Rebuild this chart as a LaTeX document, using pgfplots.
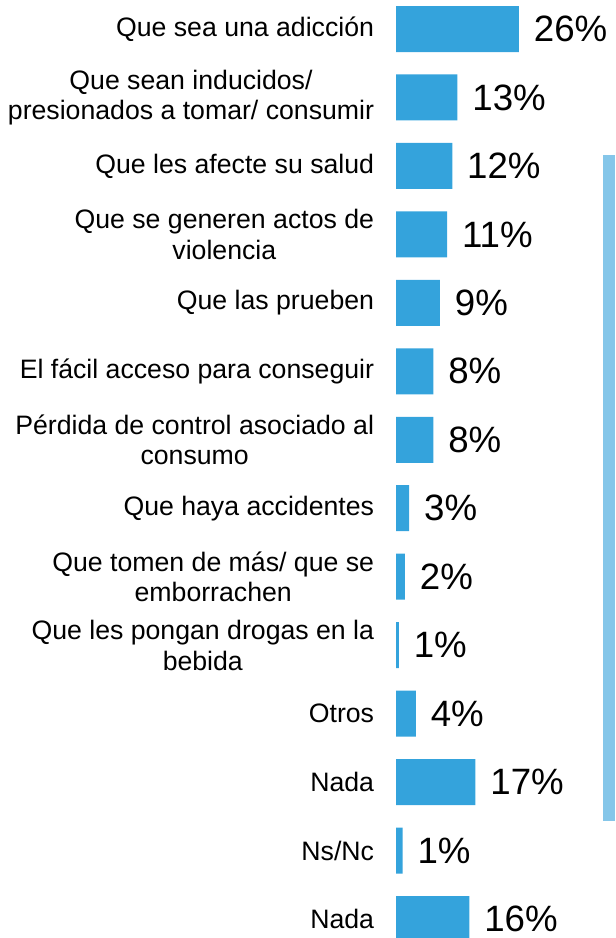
\documentclass[border=0pt]{standalone}
\usepackage{pgfplots}
\pgfplotsset{compat=1.18}
\usepackage{pgfplotstable}
\usepackage{fontspec}
\setmainfont{Liberation Sans}
\definecolor{barblue}{RGB}{52,163,220}
\definecolor{lineblue}{RGB}{133,198,233}
\pgfplotstableread[col sep=comma]{
y,v,lab
0,26,26
1,13,13
2,11.9,12
3,10.8,11
4,9.3,9
5,7.9,8
6,7.9,8
7,2.8,3
8,1.9,2
9,0.6,1
10,4.2,4
11,16.8,17
12,1.4,1
13,15.5,16
}\datatable
\begin{document}
\begin{tikzpicture}
\useasboundingbox (0,0) rectangle (461.25pt,703.5pt);
\fill[lineblue] (452.25pt,87.75pt) rectangle (461.25pt,587.25pt);
\begin{axis}[
  at={(297pt,0pt)}, anchor=south west,
  scale only axis, width=164.25pt, height=703.5pt,
  xmin=0, xmax=46.3,
  y dir=reverse, ymin=-0.4236, ymax=13.2775,
  xbar, bar width=34.5pt,
  axis line style={draw=none}, tick style={draw=none},
  xtick=\empty,
  ytick={0,...,13},
  yticklabels={{Que sea una adicción},{Que sean inducidos/\\presionados a tomar/ consumir},{Que les afecte su salud},{Que se generen actos de\\violencia},{Que las prueben},{El fácil acceso para conseguir},{Pérdida de control asociado al\\consumo},{Que haya accidentes},{Que tomen de más/ que se\\emborrachen},{Que les pongan drogas en la\\bebida},{Otros},{Nada},{Ns/Nc},{Nada}},
  yticklabel style={anchor=east, inner sep=0pt, xshift=-12pt, align=center, font=\fontsize{20}{23}\selectfont},
  point meta=explicit symbolic,
  nodes near coords={\pgfplotspointmeta\%},
  every node near coord/.append style={anchor=west, inner sep=0pt, xshift=11pt, font=\fontsize{27.5}{30}\selectfont, text=black},
]
\addplot[fill=barblue, draw=none] table[x=v, y=y, meta=lab] {\datatable};
\end{axis}
\end{tikzpicture}
\end{document}
